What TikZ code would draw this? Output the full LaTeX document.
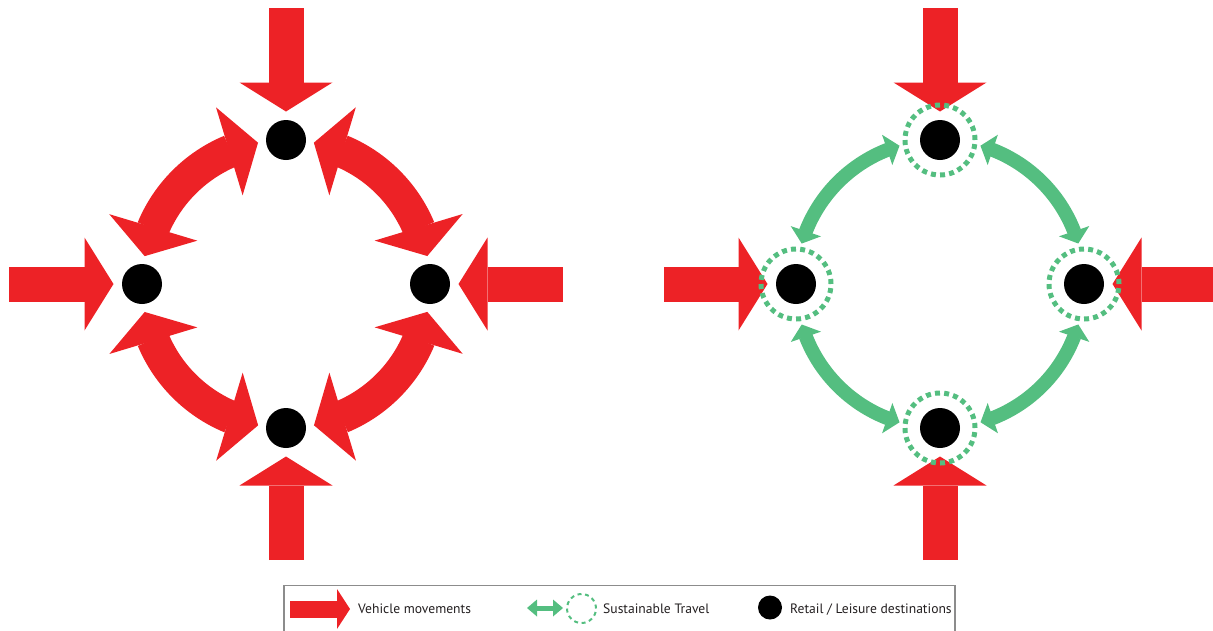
\documentclass[tikz,border=0pt]{standalone}
\usepackage{fontspec}
\setmainfont{PT Sans}
\usetikzlibrary{arrows.meta,bending,calc}
\definecolor{vred}{RGB}{237,34,38}
\definecolor{sgreen}{RGB}{84,190,128}
\definecolor{legendgray}{RGB}{140,140,140}
\definecolor{textdark}{RGB}{35,31,32}
\begin{document}
\begin{tikzpicture}[x=1pt,y=1pt,
  dest/.style={circle,fill=black,minimum size=40pt,inner sep=0pt,outer sep=0pt},
  susring/.style={circle,draw=sgreen,line width=5pt,dash pattern=on 5pt off 4.163pt,minimum size=70pt,inner sep=0pt,outer sep=0pt},
  vehicle/.style={draw=vred,line width=35pt,-{Triangle[width=93pt,length=29pt,line width=0pt]},shorten >=8.5pt},
  redloop/.style={draw=vred,line width=33pt,{Triangle[width=92pt,length=30pt,line width=0pt,flex]}-{Triangle[width=92pt,length=30pt,line width=0pt,flex]},shorten >=28.5pt,shorten <=28.5pt},
  greenloop/.style={draw=sgreen,line width=14pt,{Triangle[width=32pt,length=13pt,line width=0pt,flex]}-{Triangle[width=32pt,length=13pt,line width=0pt,flex]},shorten >=42pt,shorten <=42pt},
  legendtext/.style={anchor=base west,inner sep=0pt,text=textdark,font=\fontsize{13.6}{16}\selectfont}
]
\useasboundingbox (0,0) rectangle (1213,-630);

% ---------- left diagram ----------
\node[dest] (LT) at (286,-140) {};
\node[dest] (LL) at (142,-284) {};
\node[dest] (LR) at (430,-284) {};
\node[dest] (LB) at (286,-428) {};

\coordinate (LTs) at (286,-8);
\coordinate (LLs) at (9,-284);
\coordinate (LRs) at (563,-284);
\coordinate (LBs) at (286,-560);

\draw[vehicle] (LTs) -- (LT);
\draw[vehicle] (LLs) -- (LL);
\draw[vehicle] (LRs) -- (LR);
\draw[vehicle] (LBs) -- (LB);

\draw[redloop] (LT.center) to[bend right=45] (LL.center);
\draw[redloop] (LL.center) to[bend right=45] (LB.center);
\draw[redloop] (LB.center) to[bend right=45] (LR.center);
\draw[redloop] (LR.center) to[bend right=45] (LT.center);

% ---------- right diagram ----------
\node[dest] (RT) at (940,-140) {};
\node[dest] (RL) at (796,-284) {};
\node[dest] (RR) at (1084,-284) {};
\node[dest] (RB) at (940,-428) {};

\coordinate (RTs) at (940,-8);
\coordinate (RLs) at (664,-284);
\coordinate (RRs) at (1213,-284);
\coordinate (RBs) at (940,-560);

\draw[vehicle] (RTs) -- (RT);
\draw[vehicle] (RLs) -- (RL);
\draw[vehicle] (RRs) -- (RR);
\draw[vehicle] (RBs) -- (RB);

\node[susring] (RTr) at (RT) {};
\node[susring] (RLr) at (RL) {};
\node[susring] (RRr) at (RR) {};
\node[susring] (RBr) at (RB) {};

\draw[greenloop] (RT.center) to[bend right=45] (RL.center);
\draw[greenloop] (RL.center) to[bend right=45] (RB.center);
\draw[greenloop] (RB.center) to[bend right=45] (RR.center);
\draw[greenloop] (RR.center) to[bend right=45] (RT.center);

% ---------- legend ----------
\draw[legendgray,line width=1.2pt] (284,-632) -- (284,-585.5) -- (955,-585.5) -- (955,-632);

\coordinate (lvs) at (290,-609);
\coordinate (lve) at (350,-609);
\draw[draw=vred,line width=17pt,-{Triangle[width=40pt,length=13pt,line width=0pt]}] (lvs) -- (lve);
\node[legendtext] (lvt) at (358,-613) {Vehicle movements};

\coordinate (lgs) at (527,-608);
\coordinate (lge) at (563,-608);
\draw[draw=sgreen,line width=5pt,{Triangle[width=17pt,length=10pt,line width=0pt]}-{Triangle[width=17pt,length=10pt,line width=0pt]}] (lgs) -- (lge);
\node[circle,draw=sgreen,line width=2pt,dash pattern=on 4pt off 3.59pt,minimum size=29pt,inner sep=0pt] (lgr) at (581.5,-608.5) {};
\node[legendtext] (lgt) at (603,-613) {Sustainable Travel};

\node[dest,minimum size=24pt] (lrd) at (770,-607.5) {};
\node[legendtext] (lrt) at (790,-613) {Retail / Leisure destinations};
\end{tikzpicture}
\end{document}
